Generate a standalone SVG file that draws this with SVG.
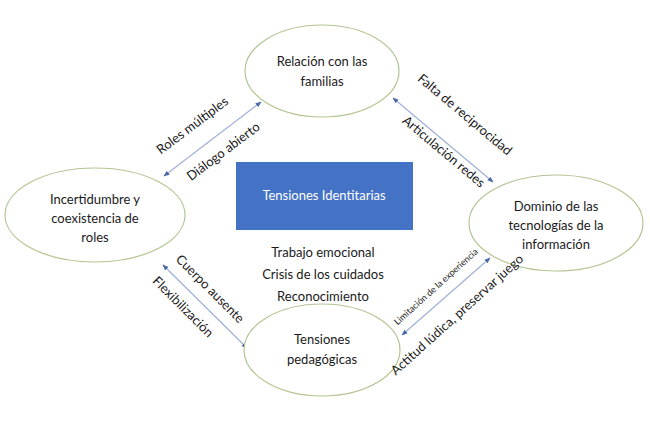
<svg xmlns="http://www.w3.org/2000/svg" width="650" height="438" viewBox="0 0 650 438">
<style>
.node ellipse{fill:#fff;stroke:#b3c592;stroke-width:1.2}
text{font-family:Lato,"Open Sans",sans-serif;fill:#1a1a1a}
.t{font-size:13px;text-anchor:middle}
.l{font-size:13px;text-anchor:middle}
.s{font-size:9px;text-anchor:middle}
.conn line{stroke:#9fb0d6;stroke-width:1.2;marker-start:url(#a);marker-end:url(#a)}
</style>
<defs>
<marker id="a" viewBox="0 0 10 10" refX="9" refY="5" markerWidth="5" markerHeight="5" orient="auto-start-reverse" markerUnits="strokeWidth">
<path d="M0,1 L10,5 L0,9 z" fill="#4a68a8"/>
</marker>
</defs>
<rect width="650" height="438" fill="#fff"/>
<g class="conn">
<line x1="164" y1="176" x2="261" y2="102"/>
<line x1="393" y1="98" x2="493" y2="182"/>
<line x1="163" y1="265" x2="247" y2="348"/>
<line x1="402" y1="335" x2="490" y2="258"/>
</g>
<g id="center">
<rect x="236" y="162" width="177" height="68" fill="#4472c4"/>
<text class="t" x="324" y="200" style="fill:#fff">Tensiones Identitarias</text>
<text class="t" x="323" y="257">Trabajo emocional</text>
<text class="t" x="323" y="279">Crisis de los cuidados</text>
<text class="t" x="323" y="301">Reconocimiento</text>
</g>
<g id="n1" class="node">
<ellipse cx="322" cy="71" rx="77" ry="46"/>
<text class="t" x="322" y="66">Relación con las</text>
<text class="t" x="322" y="86">familias</text>
</g>
<g id="n2" class="node">
<ellipse cx="95" cy="215" rx="90" ry="47"/>
<text class="t" x="95" y="204">Incertidumbre y</text>
<text class="t" x="95" y="223">coexistencia de</text>
<text class="t" x="95" y="242">roles</text>
</g>
<g id="n3" class="node">
<ellipse cx="556" cy="223" rx="87" ry="48"/>
<text class="t" x="556" y="211">Dominio de las</text>
<text class="t" x="556" y="230">tecnologías de la</text>
<text class="t" x="556" y="249">información</text>
</g>
<g id="n4" class="node">
<ellipse cx="322" cy="350" rx="78" ry="46"/>
<text class="t" x="322" y="344">Tensiones</text>
<text class="t" x="322" y="364">pedagógicas</text>
</g>
<g id="labels">
<text class="l" transform="translate(195,129) rotate(-37)">Roles múltiples</text>
<text class="l" transform="translate(226,155) rotate(-37)">Diálogo abierto</text>
<text class="l" transform="translate(462,118) rotate(40)">Falta de reciprocidad</text>
<text class="l" transform="translate(441,155) rotate(40)">Articulación redes</text>
<text class="l" transform="translate(207,292) rotate(45)">Cuerpo ausente</text>
<text class="l" transform="translate(180,310) rotate(45)">Flexibilización</text>
<text class="s" transform="translate(438,289) rotate(-42)">Limitación de la experiencia</text>
<text class="l" transform="translate(460,318) rotate(-42)">Actitud lúdica, preservar juego</text>
</g>
</svg>
